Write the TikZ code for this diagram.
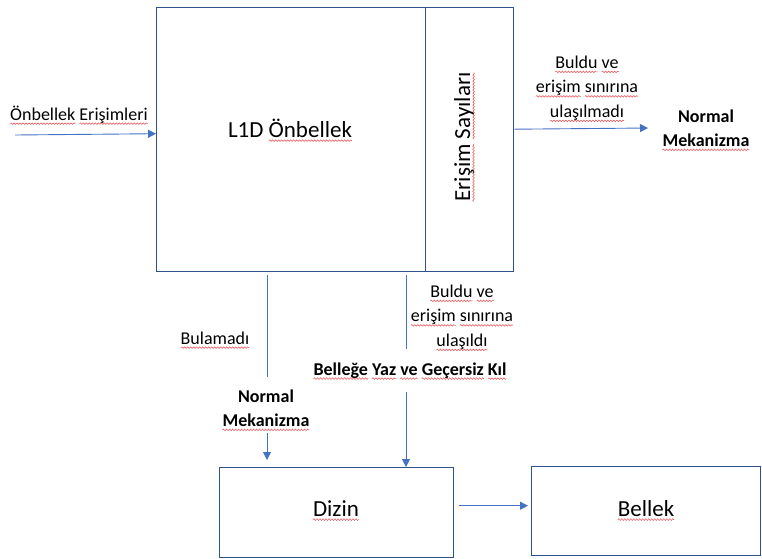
\documentclass[tikz,border=0pt]{standalone}
\usepackage{fontspec}
\setmainfont{Carlito}
\usetikzlibrary{arrows.meta,calc,decorations.pathmorphing}

\definecolor{boxblue}{HTML}{2F528F}
\definecolor{lineblue}{HTML}{4472C4}
\definecolor{squig}{HTML}{E84A4F}

% red wavy underline (spell-check style) drawn under a word
\newlength\sqw
\newcommand\sq[1]{\settowidth\sqw{#1}\tikz[overlay,x=1pt,y=1pt]\draw[squig, line width=0.5pt,
  decorate, decoration={snake, amplitude=0.8pt, segment length=3pt}]
  (0pt,-3.6pt) -- (\sqw,-3.6pt);#1}

\tikzset{
  blk/.style={draw=boxblue, line width=1.4pt, inner sep=0pt, anchor=north west},
  small/.style={font=\fontsize{18}{24.5}\selectfont, inner sep=0pt, align=center},
  smallbf/.style={font=\bfseries\fontsize{18}{24}\selectfont, inner sep=0pt, align=center},
  big/.style={font=\fontsize{23}{28}\selectfont, inner sep=0pt},
  ln/.style={draw=lineblue, line width=0.9pt},
  arr/.style={ln, -{Triangle[length=8pt,width=8pt]}},
}

\begin{document}
\begin{tikzpicture}[x=1pt,y=-1pt]
\useasboundingbox (0,0) rectangle (762,558);

% boxes
\node[blk, minimum width=269pt, minimum height=264pt] (l1d) at (156,7) {};
\node[blk, minimum width=88pt, minimum height=264pt] (cnt) at (425,7) {};
\node[blk, minimum width=234pt, minimum height=90pt] (dizin) at (219,467) {};
\node[blk, minimum width=229pt, minimum height=89pt] (bellek) at (531,466) {};

% box captions
\node[big, anchor=base] (l1dtxt) at (290,137) {L1D \sq{Önbellek}};
\node[big, anchor=base, rotate=90] (cnttxt) at (470,137) {\sq{Erişim} \sq{Sayıları}};
\node[big, anchor=base] (dizintxt) at (336,516) {\sq{Dizin}};
\node[big, anchor=base] (bellektxt) at (646,516) {\sq{Bellek}};

% labels
\node[small, anchor=base west] (inlbl) at (10,120) {\sq{Önbellek} \sq{Erişimleri}};
\node[small] (hitno) at (587,88) {\sq{Buldu} \sq{ve}\\ \sq{erişim} \sq{sınırına}\\ \sq{ulaşılmadı}};
\node[smallbf] (nmright) at (706,128) {Normal\\ \sq{Mekanizma}};
\node[small, anchor=base] (miss) at (215,344) {\sq{Bulamadı}};
\node[small] (hityes) at (462,317) {\sq{Buldu} \sq{ve}\\ \sq{erişim} \sq{sınırına}\\ \sq{ulaşıldı}};
\node[smallbf, anchor=base] (wb) at (410,375) {\sq{Belleğe} \sq{Yaz} \sq{ve} \sq{Geçersiz} \sq{Kıl}};
\node[smallbf] (nmdown) at (266,408) {Normal\\ \sq{Mekanizma}};

% incoming accesses
\coordinate (src) at (15,135);
\draw[arr] (src) -- ([yshift=6pt]l1d.west);

% hit, limit not reached
\coordinate (nmr) at (648,128);
\draw[arr] ([yshift=10.5pt]cnt.east) -- (nmr);

% miss path
\coordinate (m0) at (267,275);
\coordinate (m1) at (267,377);
\coordinate (m2) at (267,433);
\coordinate (m3) at (267,460);
\draw[ln] (m0) -- (m1);
\draw[arr] (m2) -- (m3);

% hit, limit reached
\coordinate (h0) at (406,275);
\coordinate (h1) at (406,349);
\coordinate (h2) at (406,392);
\draw[ln] (h0) -- (h1);
\draw[arr] (h2) -- (dizin.north -| h2);

% directory to memory
\draw[arr] ([xshift=5pt,yshift=7pt]dizin.east) coordinate (d0) -- ($(bellek.west |- d0)+(-3,0)$);
\end{tikzpicture}
\end{document}
